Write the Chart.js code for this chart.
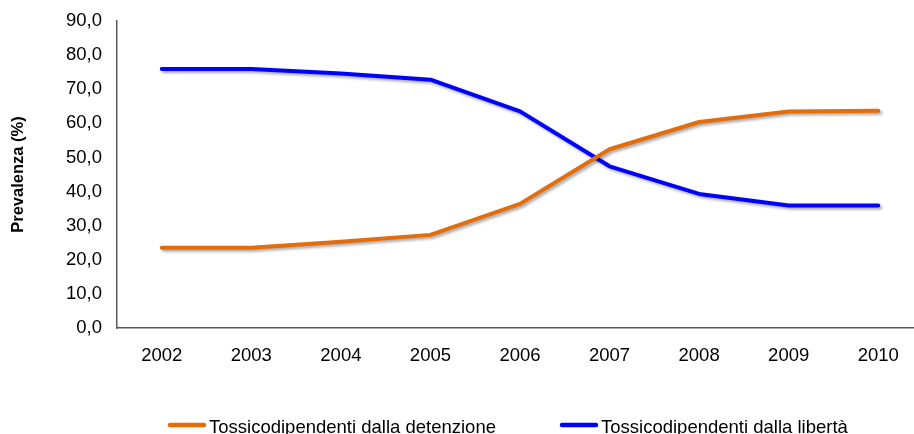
<!DOCTYPE html>
<html>
<head>
<meta charset="utf-8">
<script src="https://cdn.jsdelivr.net/npm/chart.js@4/dist/chart.umd.min.js"></script>
<style>
  html, body { margin: 0; padding: 0; background: #fff; overflow: hidden; }
  #wrap { width: 924px; height: 434px; }
</style>
</head>
<body>
<div id="wrap"><canvas id="c" width="924" height="434"></canvas></div>
<script>
// Anni osservati
const years = ['2002', '2003', '2004', '2005', '2006', '2007', '2008', '2009', '2010'];
// Prevalenza (%) per provenienza
const detenzione = [23.5, 23.5, 25.3, 27.3, 36.4, 52.4, 60.4, 63.5, 63.7];
const liberta = [75.9, 75.9, 74.6, 72.8, 63.5, 47.4, 39.3, 35.9, 35.9];
// Etichette delle serie
const seriesNames = ['Tossicodipendenti dalla detenzione', 'Tossicodipendenti dalla libertà'];
const seriesColors = ['#E46C0A', '#0000FF'];
// Asse Y
const yMin = 0, yMax = 90, yStep = 10;
const yTitle = 'Prevalenza (%)';

const FONT = '"Liberation Sans", Arial, sans-serif';

// Soft drop shadow under the lines
const lineShadow = {
  id: 'lineShadow',
  beforeDatasetsDraw(chart) {
    const ctx = chart.ctx;
    ctx.save();
    ctx.shadowColor = 'rgba(0,0,0,0.35)';
    ctx.shadowBlur = 3;
    ctx.shadowOffsetX = 2;
    ctx.shadowOffsetY = 2;
  },
  afterDatasetsDraw(chart) {
    chart.ctx.restore();
  }
};

// Legend drawn beneath the plot with short line samples
const bottomLegend = {
  id: 'bottomLegend',
  afterDraw(chart) {
    const ctx = chart.ctx;
    const starts = [168, 560];
    const y = 425;
    ctx.save();
    ctx.font = '18.5px ' + FONT;
    ctx.textBaseline = 'alphabetic';
    chart.data.datasets.forEach((ds, i) => {
      const x = starts[i];
      ctx.strokeStyle = ds.borderColor;
      ctx.lineWidth = 4.5;
      ctx.lineCap = 'round';
      ctx.beginPath();
      ctx.moveTo(x + 2, y);
      ctx.lineTo(x + 36, y);
      ctx.stroke();
      ctx.fillStyle = '#000';
      ctx.fillText(ds.label, x + 41, y + 8);
    });
    ctx.restore();
  }
};

new Chart(document.getElementById('c'), {
  type: 'line',
  data: {
    labels: years,
    datasets: [
      { label: seriesNames[0], data: detenzione, borderColor: seriesColors[0], backgroundColor: seriesColors[0] },
      { label: seriesNames[1], data: liberta, borderColor: seriesColors[1], backgroundColor: seriesColors[1] }
    ]
  },
  options: {
    responsive: false,
    animation: false,
    layout: { padding: { top: 21, right: 1, left: 0, bottom: 0 } },
    elements: {
      point: { radius: 0, hoverRadius: 0 },
      line: { borderWidth: 4, tension: 0, borderCapStyle: 'round', borderJoinStyle: 'round' }
    },
    plugins: {
      legend: { display: false },
      tooltip: { enabled: false }
    },
    scales: {
      x: {
        offset: true,
        grid: { display: false, drawTicks: false },
        border: { display: true, color: '#595959', width: 1.5 },
        ticks: { color: '#000', font: { family: FONT, size: 18.5 }, padding: 17, maxRotation: 0 },
        afterFit(s) { s.height = 106; s.paddingLeft = 0; s.paddingRight = 0; }
      },
      y: {
        min: yMin,
        max: yMax,
        grid: { display: false, drawTicks: false },
        border: { display: true, color: '#595959', width: 1.5 },
        ticks: {
          stepSize: yStep,
          color: '#000',
          font: { family: FONT, size: 18.5 },
          padding: 15,
          callback: v => v.toFixed(1).replace('.', ',')
        },
        title: {
          display: true,
          text: yTitle,
          color: '#000',
          font: { family: FONT, size: 16.5, weight: 'bold' },
          padding: { top: 9, bottom: 0 }
        },
        afterFit(s) { s.width = 117; s.paddingTop = 0; s.paddingBottom = 0; }
      }
    }
  },
  plugins: [lineShadow, bottomLegend]
});
</script>
</body>
</html>
